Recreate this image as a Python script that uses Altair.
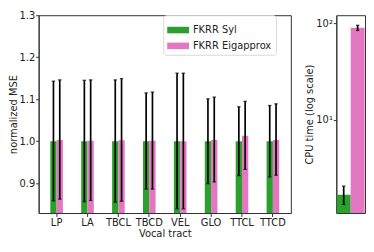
import altair as alt
import pandas as pd

tracts = ["LP", "LA", "TBCL", "TBCD", "VEL", "GLO", "TTCL", "TTCD"]
methods = ["FKRR Syl", "FKRR Eigapprox"]
colors = ["#2ca02c", "#e377c2"]

syl_mean = [1.000, 1.000, 1.000, 1.000, 1.000, 1.000, 1.000, 1.000]
syl_lo = [0.858, 0.856, 0.855, 0.886, 0.839, 0.899, 0.918, 0.915]
syl_hi = [1.143, 1.145, 1.146, 1.115, 1.162, 1.101, 1.082, 1.085]
eig_mean = [1.003, 1.001, 1.002, 1.001, 1.000, 1.003, 1.013, 1.003]
eig_lo = [0.862, 0.859, 0.857, 0.886, 0.839, 0.903, 0.933, 0.919]
eig_hi = [1.146, 1.146, 1.149, 1.117, 1.162, 1.105, 1.095, 1.089]

cpu_mean = [1.68, 89.4]
cpu_lo = [1.33, 84.0]
cpu_hi = [2.06, 95.0]

MSE_DOMAIN = [0.829, 1.3]
CPU_DOMAIN = [1.084, 120.8]

rows = []
for i, t in enumerate(tracts):
    rows.append({"tract": t, "method": methods[0], "mean": syl_mean[i], "lo": syl_lo[i], "hi": syl_hi[i]})
    rows.append({"tract": t, "method": methods[1], "mean": eig_mean[i], "lo": eig_lo[i], "hi": eig_hi[i]})
df = pd.DataFrame(rows)
cpu = pd.DataFrame({"method": methods, "mean": cpu_mean, "lo": cpu_lo, "hi": cpu_hi})

FONT = "DejaVu Sans"
TXT = "#222222"

xL = alt.X("tract:N", sort=tracts, title="Vocal tract",
           scale=alt.Scale(paddingInner=0.592, paddingOuter=0.377),
           axis=alt.Axis(labelAngle=0, tickSize=3.5, labelPadding=1.5, titlePadding=1))
xo = alt.XOffset("method:N", sort=methods, scale=alt.Scale(paddingInner=0, paddingOuter=0))
yscale = alt.Scale(domain=MSE_DOMAIN, zero=False, nice=False)

color_scale = alt.Scale(domain=methods, range=colors)

bars = alt.Chart(df).mark_bar(clip=True).encode(
    x=xL, xOffset=xo,
    y=alt.Y("mean:Q", scale=yscale, title="normalized MSE",
            axis=alt.Axis(values=[0.9, 1.0, 1.1, 1.2, 1.3], format=".1f", tickSize=3,
                          labelPadding=1, titlePadding=0)),
    color=alt.Color("method:N", sort=methods, scale=color_scale, title=None,
                    legend=alt.Legend(orient="none", legendX=126, legendY=0,
                                      symbolType="M-1,-0.3H1V0.3H-1Z", symbolSize=484,
                                      symbolStrokeWidth=0, rowPadding=-6,
                                      padding=4, strokeColor="#d9d9d9", cornerRadius=3,
                                      fillColor="#ffffff", labelFontSize=10,
                                      labelFont=FONT, labelColor=TXT, symbolOpacity=1)),
)
errs = alt.Chart(df).mark_rule(color="black", strokeWidth=1.7).encode(
    x=xL, xOffset=xo, y=alt.Y("lo:Q", scale=yscale), y2="hi:Q")
caps_lo = alt.Chart(df).mark_tick(color="black", thickness=1.3, size=3.5, orient="horizontal").encode(
    x=xL, xOffset=xo, y=alt.Y("lo:Q", scale=yscale))
caps_hi = alt.Chart(df).mark_tick(color="black", thickness=1.3, size=3.5, orient="horizontal").encode(
    x=xL, xOffset=xo, y=alt.Y("hi:Q", scale=yscale))

left = alt.layer(bars, errs, caps_lo, caps_hi).properties(width=255, height=200)

ylog = alt.Scale(type="log", domain=CPU_DOMAIN, nice=False)
xR = alt.X("method:N", sort=methods, axis=None, scale=alt.Scale(paddingInner=0, paddingOuter=0.03))
rbars = alt.Chart(cpu).mark_bar(clip=True).encode(
    x=xR,
    y=alt.Y("mean:Q", scale=ylog, title="CPU time (log scale)",
            axis=alt.Axis(values=[10, 100], labelExpr="datum.value == 10 ? '10¹' : '10²'",
                          tickSize=3, labelPadding=1, titlePadding=1)),
    y2=alt.datum(CPU_DOMAIN[0]),
    color=alt.Color("method:N", sort=methods, scale=color_scale, legend=None),
)
rerr = alt.Chart(cpu).mark_rule(color="black", strokeWidth=1.7).encode(
    x=xR, y=alt.Y("lo:Q", scale=ylog), y2="hi:Q")
rcap_lo = alt.Chart(cpu).mark_tick(color="black", thickness=1.3, size=3.5, orient="horizontal").encode(
    x=xR, y=alt.Y("lo:Q", scale=ylog))
rcap_hi = alt.Chart(cpu).mark_tick(color="black", thickness=1.3, size=3.5, orient="horizontal").encode(
    x=xR, y=alt.Y("hi:Q", scale=ylog))
right = alt.layer(rbars, rerr, rcap_lo, rcap_hi).properties(width=29, height=200)

chart = alt.hconcat(left, right, spacing=12).resolve_scale(color="independent").properties(
    padding={"left": 0, "top": 0, "right": 0, "bottom": 0}
).configure_view(stroke="#333333", strokeWidth=1).configure_axis(
    labelFont=FONT, titleFont=FONT, labelFontSize=10, titleFontSize=10,
    labelColor=TXT, titleColor=TXT, titleFontWeight="normal",
    domainColor="#333333", tickColor="#333333", grid=False,
)

chart.save("out.html", embed_options={"renderer": "svg", "actions": False})
